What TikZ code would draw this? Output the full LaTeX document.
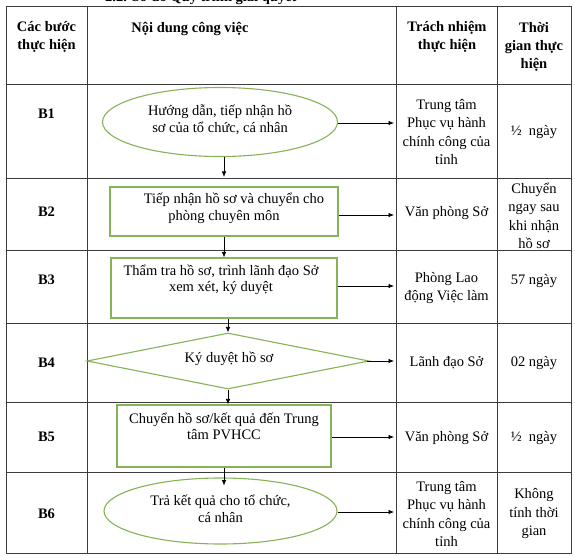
\documentclass[tikz,border=0pt]{standalone}
\usepackage{fontspec}
\setmainfont{Liberation Serif}
\usetikzlibrary{shapes.geometric,arrows.meta}
\definecolor{shapegreen}{RGB}{135,178,85}
\definecolor{gridgray}{RGB}{60,60,60}
\begin{document}
\begin{tikzpicture}[x=1pt,y=-1pt,
  grid/.style={draw=gridgray,line width=0.8pt},
  shp/.style={draw=shapegreen,line width=1.1pt,inner sep=0pt},
  arr/.style={-{Latex[length=5.5pt,width=4.5pt]},line width=0.7pt},
  txt/.style={font=\fontsize{14.5}{16.5}\selectfont,align=center,inner sep=0pt},
  cell/.style={font=\fontsize{14.5}{18.5}\selectfont,align=center,inner sep=0pt},
  head/.style={font=\bfseries\fontsize{14.5}{18}\selectfont,align=center,inner sep=0pt},
  steplabel/.style={font=\bfseries\fontsize{14.5}{18}\selectfont,inner sep=0pt}]
\useasboundingbox[fill=white] (0,0) rectangle (575,556);

% partially visible title (cut by the top edge, as in the reference)
\node[head,anchor=base west] (title) at (105,1.5) {2.2. Sơ đồ Quy trình giải quyết};

% table grid
\draw[grid] (6,6) rectangle (571,553);
\foreach \x in {87,396,497} \draw[grid] (\x,6) -- (\x,553);
\foreach \y in {84,178,250,323,402,472} \draw[grid] (6,\y) -- (571,\y);

% header
\node[head] (h1) at (46.5,37) {Các bước\\thực hiện};
\node[head] (h2) at (190,29) {Nội dung công việc};
\node[head] (h3) at (447,37) {Trách nhiệm\\thực hiện};
\node[head] (h4) at (534,47) {Thời\\gian thực\\hiện};

% step labels
\node[steplabel] (b1) at (46.5,114) {B1};
\node[steplabel] (b2) at (46.5,212) {B2};
\node[steplabel] (b3) at (46.5,280) {B3};
\node[steplabel] (b4) at (46.5,363) {B4};
\node[steplabel] (b5) at (46.5,437) {B5};
\node[steplabel] (b6) at (46.5,514) {B6};

% shapes
\node[shp,ellipse,minimum width=235pt,minimum height=69pt] (e1) at (220,122) {};
\node[shp,rectangle,minimum width=228pt,minimum height=49pt] (r2) at (224,211.5) {};
\node[shp,rectangle,minimum width=226pt,minimum height=60pt] (r3) at (224,288) {};
\node[shp,diamond,minimum width=282pt,minimum height=56pt] (d4) at (228,361) {};
\node[shp,rectangle,minimum width=214pt,minimum height=62pt] (r5) at (224,436) {};
\node[shp,ellipse,minimum width=233pt,minimum height=66pt] (e6) at (220.5,511) {};

% shape texts
\node[txt] (t1) at (220,119.5) {Hướng dẫn, tiếp nhận hồ\\sơ của tổ chức, cá nhân};
\node[txt] (t2) at (224,208.5) {\hspace*{20pt}Tiếp nhận hồ sơ và chuyển cho\\phòng chuyên môn};
\node[txt] (t3) at (221,280) {Thẩm tra hồ sơ, trình lãnh đạo Sở\\xem xét, ký duyệt};
\node[txt] (t4) at (229,359) {Ký duyệt hồ sơ};
\node[txt] (t5) at (224,426.5) {Chuyển hồ sơ/kết quả đến Trung\\tâm PVHCC};
\node[txt] (t6) at (220.5,509) {Trả kết quả cho tổ chức,\\cá nhân};

% responsibility column
\node[cell] (p1) at (446.5,132) {Trung tâm\\Phục vụ hành\\chính công của\\tỉnh};
\node[cell] (p2) at (446.5,213) {Văn phòng Sở};
\node[cell] (p3) at (446.5,288) {Phòng Lao\\động Việc làm};
\node[cell] (p4) at (446.5,363) {Lãnh đạo Sở};
\node[cell] (p5) at (446.5,438) {Văn phòng Sở};
\node[cell] (p6) at (446.5,514) {Trung tâm\\Phục vụ hành\\chính công của\\tỉnh};

% time column
\node[cell] (q1) at (534,132) {½\enspace ngày};
\node[cell] (q2) at (534,216) {Chuyển\\ngay sau\\khi nhận\\hồ sơ};
\node[cell] (q3) at (534,281) {57 ngày};
\node[cell] (q4) at (534,363) {02 ngày};
\node[cell] (q5) at (534,438) {½\enspace ngày};
\node[cell] (q6) at (534,514) {Không\\tính thời\\gian};

% down connectors
\coordinate (a1) at (224,177);
\draw[arr] (e1.south -| a1) -- (a1);
\draw[arr] (r2.south) -- (r2.south |- r3.north);
\draw[arr] (r3.south -| d4.north) -- (d4.north);
\draw[arr] (d4.south) -- (d4.south |- r5.north);
\draw[arr] (r5.south) -- ++(0,18);

% right connectors
\coordinate (c1) at (394,123);
\coordinate (c2) at (394,215);
\coordinate (c3) at (394,286);
\coordinate (c4) at (394,361);
\coordinate (c5) at (394,437);
\coordinate (c6) at (394,512);
\draw[arr] (e1.east |- c1) -- (c1);
\draw[arr] (r2.east |- c2) -- (c2);
\draw[arr] (r3.east |- c3) -- (c3);
\draw[arr] ([xshift=-3pt]d4.east) -- (c4);
\draw[arr] (r5.east |- c5) -- (c5);
\draw[arr] (e6.east |- c6) -- (c6);
\end{tikzpicture}
\end{document}
